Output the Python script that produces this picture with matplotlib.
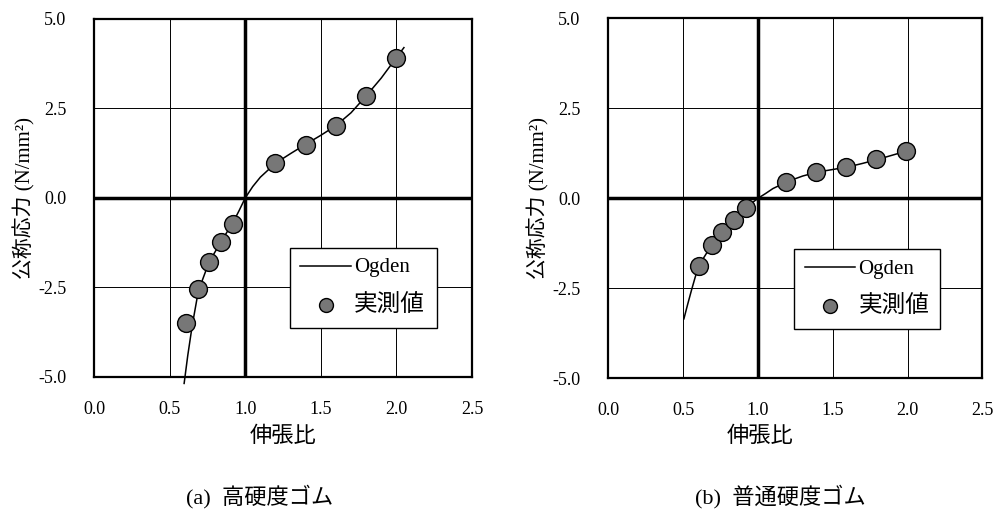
import matplotlib
matplotlib.use('Agg')
import matplotlib.pyplot as plt
from matplotlib.lines import Line2D

plt.rcParams['font.family'] = ['Liberation Serif', 'Noto Sans CJK JP', 'DejaVu Sans']

# measured values (stretch ratio, nominal stress)
hard_x = [0.61, 0.69, 0.76, 0.84, 0.92, 1.2, 1.4, 1.6, 1.8, 2.0]
hard_y = [-3.5, -2.53, -1.79, -1.24, -0.72, 0.97, 1.48, 2.02, 2.86, 3.92]
norm_x = [0.605, 0.69, 0.76, 0.84, 0.92, 1.19, 1.39, 1.59, 1.79, 1.99]
norm_y = [-1.87, -1.30, -0.93, -0.61, -0.27, 0.46, 0.74, 0.86, 1.09, 1.32]

# Ogden fit curves
hard_cx = [0.596, 0.62, 0.65, 0.69, 0.76, 0.84, 0.92, 0.96, 1.0, 1.05, 1.1,
           1.2, 1.3, 1.4, 1.5, 1.6, 1.7, 1.8, 1.9, 2.0, 2.05]
hard_cy = [-5.18, -4.4, -3.55, -2.6, -1.8, -1.22, -0.68, -0.35, 0.0, 0.32, 0.58,
           0.97, 1.24, 1.5, 1.75, 2.02, 2.38, 2.85, 3.35, 3.92, 4.2]
norm_cx = [0.505, 0.53, 0.556, 0.58, 0.605, 0.69, 0.76, 0.84, 0.92, 0.96, 1.0,
           1.05, 1.1, 1.2, 1.3, 1.4, 1.5, 1.6, 1.7, 1.8, 1.9, 2.0]
norm_cy = [-3.35, -2.95, -2.55, -2.2, -1.87, -1.30, -0.93, -0.60, -0.28, -0.13, 0.0,
           0.13, 0.27, 0.47, 0.62, 0.73, 0.80, 0.87, 0.97, 1.08, 1.2, 1.32]

xticks = [0.0, 0.5, 1.0, 1.5, 2.0, 2.5]
yticks = [-5.0, -2.5, 0.0, 2.5, 5.0]
ylabel = '公称応力 (N/mm²)'
xlabel = '伸張比'
captions = ['(a)  高硬度ゴム', '(b)  普通硬度ゴム']

fig = plt.figure(figsize=(9.94, 5.17), dpi=100)
axes = [fig.add_axes([0.0946, 0.2708, 0.3802, 0.6925]),
        fig.add_axes([0.612, 0.2683, 0.3763, 0.6963])]
legend_pos = [(0.518, 0.138), (0.497, 0.137)]

data = [(hard_x, hard_y, hard_cx, hard_cy), (norm_x, norm_y, norm_cx, norm_cy)]

for ax, (mx, my, cx, cy), lp in zip(axes, data, legend_pos):
    ax.set_xlim(0, 2.5)
    ax.set_ylim(-5, 5)
    ax.set_xticks(xticks)
    ax.set_yticks(yticks)
    ax.set_xticklabels(['%.1f' % t for t in xticks], fontsize=13)
    ax.set_yticklabels(['%.1f' % t for t in yticks], fontsize=13)
    ax.tick_params(length=0)
    ax.tick_params(axis='x', pad=17)
    ax.tick_params(axis='y', pad=20)
    ax.grid(True, color='black', linewidth=0.7)
    ax.axvline(1.0, color='black', linewidth=2.5, zorder=2)
    ax.axhline(0.0, color='black', linewidth=2.5, zorder=2)
    for s in ax.spines.values():
        s.set_linewidth(1.6)
    ax.plot(cx, cy, color='black', linewidth=1.1, clip_on=False, zorder=3)
    ax.scatter(mx, my, s=165, facecolor='#777777', edgecolor='black',
               linewidth=1.0, zorder=4)
    ax.set_ylabel(ylabel, fontsize=15, labelpad=2)
    handles = [Line2D([], [], color='black', linewidth=1.1),
               Line2D([], [], marker='o', linestyle='none', markersize=10,
                      markerfacecolor='#777777', markeredgecolor='black')]
    leg = ax.legend(handles, ['Ogden', '実測値'], loc='lower left',
                    bbox_to_anchor=(lp[0], lp[1], 0.39, 0.24), mode='expand',
                    fontsize=14, frameon=True, fancybox=False, framealpha=1,
                    edgecolor='black', handlelength=2.6, handletextpad=0.15,
                    labelspacing=0.9, borderpad=0.55, borderaxespad=0)
    leg.get_texts()[0].set_fontsize(15)
    leg.get_texts()[1].set_fontsize(17)
    leg.get_frame().set_linewidth(1.0)

fig.text(283 / 994, 1 - 437 / 517, xlabel, ha='center', va='center', fontsize=16)
fig.text(760 / 994, 1 - 437 / 517, xlabel, ha='center', va='center', fontsize=16)
fig.text(260 / 994, 1 - 497 / 517, captions[0], ha='center', va='center', fontsize=16)
fig.text(780 / 994, 1 - 497 / 517, captions[1], ha='center', va='center', fontsize=16)

fig.savefig('out.png', dpi=100)
